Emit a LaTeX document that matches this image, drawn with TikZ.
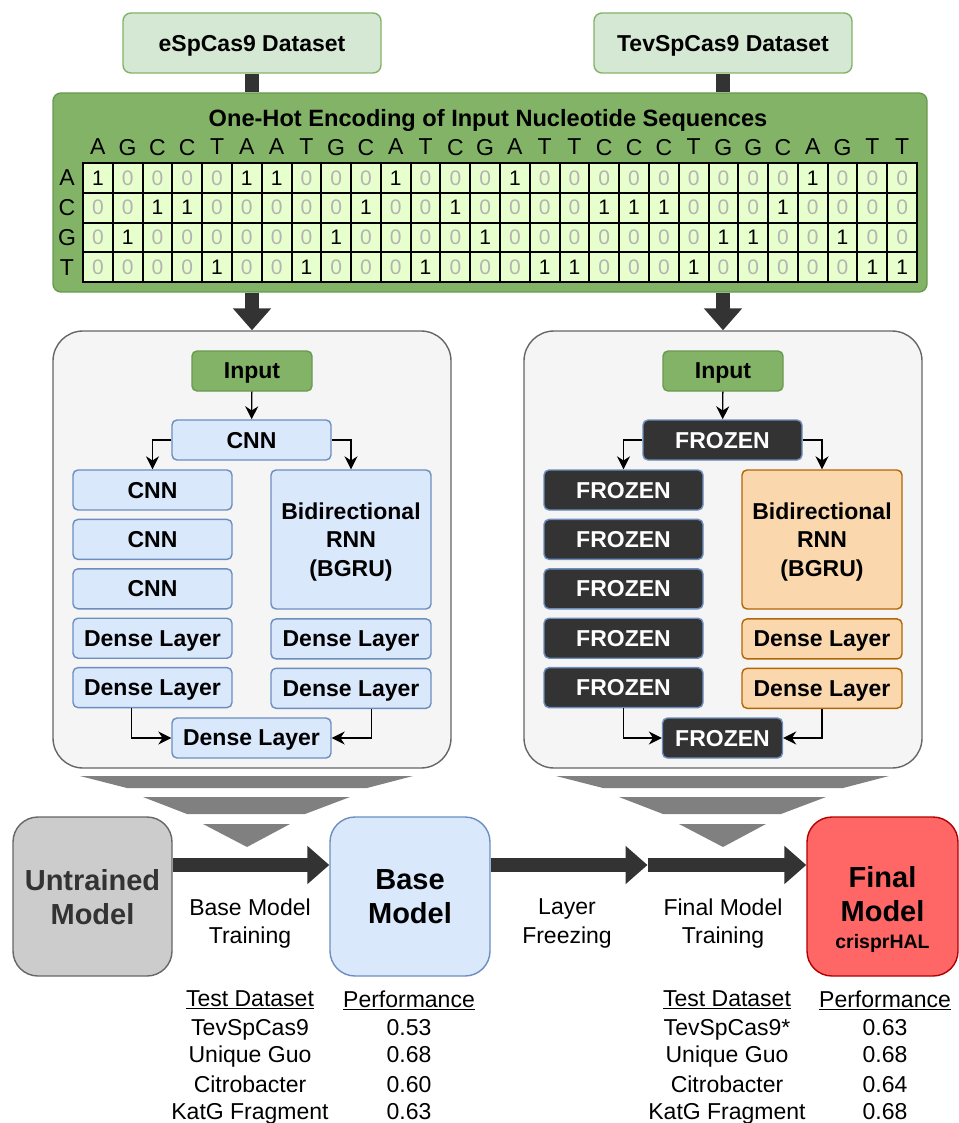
\documentclass[tikz,border=0pt]{standalone}
\usepackage{fontspec}
\setmainfont{Liberation Sans}
\usetikzlibrary{arrows.meta,positioning,calc}

\definecolor{dsfill}{HTML}{D5E8D4}
\definecolor{dsline}{HTML}{82B366}
\definecolor{encfill}{HTML}{82B366}
\definecolor{encline}{HTML}{6A9A52}
\definecolor{cellfill}{HTML}{E6FFCC}
\definecolor{zerogray}{HTML}{B3B3B3}
\definecolor{panelfill}{HTML}{F5F5F5}
\definecolor{panelline}{HTML}{666666}
\definecolor{bluefill}{HTML}{DAE8FC}
\definecolor{blueline}{HTML}{6C8EBF}
\definecolor{darkfill}{HTML}{333333}
\definecolor{orangefill}{HTML}{FAD7AC}
\definecolor{orangeline}{HTML}{B46504}
\definecolor{grayfill}{HTML}{CCCCCC}
\definecolor{redfill}{HTML}{FF6666}
\definecolor{redline}{HTML}{B20000}
\definecolor{funnelgray}{HTML}{808080}

\newcommand{\normtxt}{\fontsize{23}{28.5}\selectfont}
\newcommand{\modeltxt}{\fontsize{29}{34}\selectfont\bfseries}

\begin{document}
\begin{tikzpicture}[x={(1pt,0)}, y={(0,-1pt)}, font=\normtxt,
	box/.style={draw, rounded corners=5pt, line width=1.4pt, minimum width=159pt, minimum height=40pt, inner sep=0pt, align=center, text depth=0pt, font=\normtxt\bfseries},
	dataset/.style={box, fill=dsfill, draw=dsline, minimum width=258pt, minimum height=60pt, rounded corners=8pt},
	inputbox/.style={box, fill=encfill, draw=encline, minimum width=120pt},
	layer/.style={box, fill=bluefill, draw=blueline},
	frozen/.style={box, fill=darkfill, draw=blueline, text=white},
	trainable/.style={box, fill=orangefill, draw=orangeline},
	panel/.style={draw=panelline, fill=panelfill, line width=1.4pt, rounded corners=30pt, minimum width=398pt, minimum height=437pt},
	model/.style={draw, line width=1.4pt, rounded corners=25pt, minimum width=159pt, minimum height=159pt, inner sep=0pt, align=center, text depth=0pt, font=\modeltxt},
	cell/.style={draw, line width=2pt, fill=cellfill, minimum width=29.786pt, minimum height=29.75pt, inner sep=0pt, text depth=0pt, font=\fontsize{21}{24}\selectfont},
	nuc/.style={inner sep=0pt, text depth=0pt},
	conn/.style={-{Stealth[length=13pt,width=13pt]}, line width=1.3pt},
	fat/.style={draw=darkfill, line width=14pt, -{Triangle[width=37pt,length=22pt]}},
	bar/.style={draw=darkfill, line width=14pt},
	lbl/.style={align=center, inner sep=0pt, text depth=0pt},
	tab/.style={inner sep=0pt, text depth=0pt}]
	\useasboundingbox (0,0) rectangle (958,1123);
	
	% Datasets
	\node[dataset] (esp) at (252,43) {eSpCas9 Dataset};
	\node[dataset] (tev) at (723,43) {TevSpCas9 Dataset};
	
	% One-hot encoding
	\node[draw=encline, fill=encfill, line width=1.4pt, rounded corners=8pt, minimum width=874pt, minimum height=199pt] (enc) at (490,192.5) {};
	\draw[bar] (esp.south) -- (esp.south |- enc.north);
	\draw[bar] (tev.south) -- (tev.south |- enc.north);
	\node[nuc, font=\fontsize{23.6}{28}\selectfont\bfseries] (enctitle) at (488,118) {One-Hot Encoding of Input Nucleotide Sequences};
	\foreach \rowb [count=\j from 0] in {A,C,G,T} {
		\node[nuc] (row\j) at (67,{178+\j*29.75}) {\rowb};
	}
	\foreach \seqb [count=\i from 0] in {A,G,C,C,T,A,A,T,G,C,A,T,C,G,A,T,T,C,C,C,T,G,G,C,A,G,T,T} {
		\node[nuc] (seq\i) at ({97.9+\i*29.786},147) {\seqb};
		\foreach \rowb [count=\j from 0] in {A,C,G,T} {
			\edef\tmpa{\seqb}\edef\tmpb{\rowb}
			\ifx\tmpa\tmpb \def\bit{1}\def\bitcol{black}\else \def\bit{0}\def\bitcol{zerogray}\fi
			\node[cell, text=\bitcol] (cell\j-\i) at ({97.9+\i*29.786},{177.9+\j*29.75}) {\bit};
		}
	}
	
	% Panels
	\node[panel] (lpanel) at (252,549.5) {};
	\node[panel] (rpanel) at (723,549.5) {};
	\draw[fat] (esp.south |- enc.south) -- (lpanel.north);
	\draw[fat] (tev.south |- enc.south) -- (rpanel.north);
	
	% Base model layers
	\node[inputbox] (lin) at (252,371) {Input};
	\node[layer] (lcnn) at (251.5,440) {CNN};
	\node[layer] (lc1) at (152.5,490) {CNN};
	\node[layer, below=8pt of lc1] (lc2) {CNN};
	\node[layer, below=8pt of lc2] (lc3) {CNN};
	\node[layer, below=8pt of lc3] (ld1) {Dense Layer};
	\node[layer, below=8pt of ld1] (ld2) {Dense Layer};
	\node[layer, minimum width=160pt, minimum height=139pt] (lrnn) at (351,539.5) {Bidirectional\\RNN\\(BGRU)};
	\node[layer, minimum width=160pt, below=8.5pt of lrnn] (lr1) {Dense Layer};
	\node[layer, minimum width=160pt, below=8pt of lr1] (lr2) {Dense Layer};
	\node[layer] (lout) at (251.5,738) {Dense Layer};
	\draw[conn] (lin) -- (lcnn);
	\draw[conn] (lcnn.west) -| (lc1.north);
	\draw[conn] (lcnn.east) -| (lrnn.north);
	\draw[conn] ($(ld2.south west)!0.37!(ld2.south east)$) |- (lout.west);
	\draw[conn] ($(lr2.south west)!0.625!(lr2.south east)$) |- (lout.east);
	
	% Final model layers
	\begin{scope}[xshift=471pt]
		\node[inputbox] (rin) at (252,371) {Input};
		\node[frozen] (rcnn) at (251.5,440) {FROZEN};
		\node[frozen] (rc1) at (152.5,490) {FROZEN};
		\node[frozen, below=8pt of rc1] (rc2) {FROZEN};
		\node[frozen, below=8pt of rc2] (rc3) {FROZEN};
		\node[frozen, below=8pt of rc3] (rc4) {FROZEN};
		\node[frozen, below=8pt of rc4] (rc5) {FROZEN};
		\node[trainable, minimum width=160pt, minimum height=139pt] (rrnn) at (351,539.5) {Bidirectional\\RNN\\(BGRU)};
		\node[trainable, minimum width=160pt, below=8.5pt of rrnn] (rr1) {Dense Layer};
		\node[trainable, minimum width=160pt, below=8pt of rr1] (rr2) {Dense Layer};
		\node[frozen, minimum width=120pt] (rout) at (251.5,738) {FROZEN};
	\end{scope}
	\draw[conn] (rin) -- (rcnn);
	\draw[conn] (rcnn.west) -| (rc1.north);
	\draw[conn] (rcnn.east) -| (rrnn.north);
	\draw[conn] (rc5.south) |- (rout.west);
	\draw[conn] (rr2.south) |- (rout.east);
	
	% Funnels
	\foreach \dx in {0,476} {
		\fill[funnelgray] ({80+\dx},776) -- ({413+\dx},776) -- ({367+\dx},788) -- ({127+\dx},788) -- cycle;
		\fill[funnelgray] ({143+\dx},797) -- ({350+\dx},797) -- ({305+\dx},814) -- ({187+\dx},814) -- cycle;
		\fill[funnelgray] ({203+\dx},824) -- ({290+\dx},824) -- ({247+\dx},847) -- cycle;
	}
	
	% Models
	\node[model, fill=grayfill, draw=panelline, text=darkfill] (untrained) at (92.5,896.5) {Untrained\\Model};
	\node[model, fill=bluefill, draw=blueline, minimum width=160pt] (basem) at (410,896.5) {Base\\Model};
	\node[model, fill=redfill, draw=redline, minimum width=151pt, text height=103pt] (finalm) at (882.5,896.5) {Final\\Model\\[-7pt]{\fontsize{19.5}{23}\selectfont crisprHAL}};
	\coordinate (midfreeze) at (647.5,865);
	\draw[fat] ([yshift=31.5pt]untrained.east) -- ([yshift=31.5pt]basem.west);
	\draw[fat] ([yshift=31.5pt]basem.east) -- (midfreeze);
	\draw[fat] (midfreeze) -- ([yshift=31.5pt]finalm.west);
	\node[lbl] (lbltrain) at (250,921) {Base Model\\Training};
	\node[lbl] (lblfreeze) at (567,921) {Layer\\Freezing};
	\node[lbl] (lblfinal) at (723,921) {Final Model\\Training};
	
	% Results
	\node[tab] (lhead1) at (250,999) {\underline{Test Dataset}};
	\node[tab] (lhead2) at (409,999) {\underline{Performance}};
	\foreach \ds/\pf/\yy [count=\k] in {TevSpCas9/0.53/1027, Unique Guo/0.68/1054, Citrobacter/0.60/1084, KatG Fragment/0.63/1111} {
		\node[tab] (lds\k) at (250,\yy) {\ds};
		\node[tab] (lpf\k) at (409,\yy) {\pf};
	}
	\node[tab] (rhead1) at (727,999) {\underline{Test Dataset}};
	\node[tab] (rhead2) at (885,999) {\underline{Performance}};
	\foreach \ds/\pf/\yy [count=\k] in {TevSpCas9*/0.63/1027, Unique Guo/0.68/1054, Citrobacter/0.64/1084, KatG Fragment/0.68/1111} {
		\node[tab] (rds\k) at (727,\yy) {\ds};
		\node[tab] (rpf\k) at (885,\yy) {\pf};
	}
\end{tikzpicture}
\end{document}
